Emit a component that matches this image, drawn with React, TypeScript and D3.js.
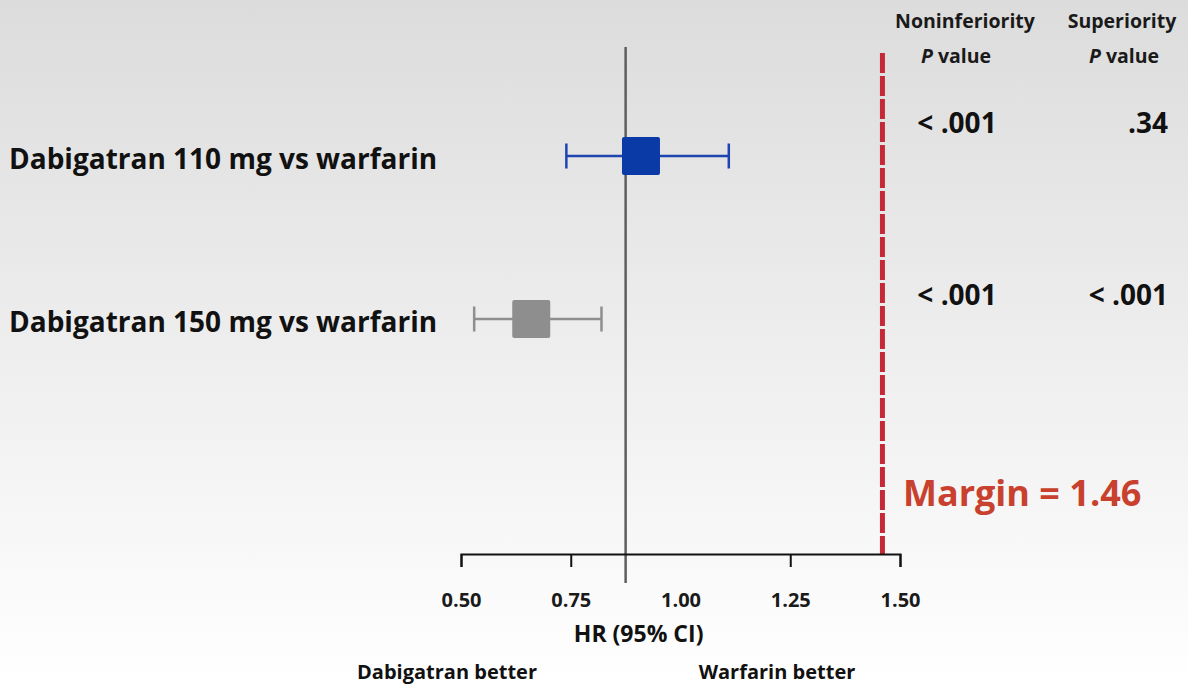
import React, { useRef, useEffect } from 'react'
import * as d3 from 'd3'

// forest plot data
const comparisons = ['Dabigatran 110 mg vs warfarin', 'Dabigatran 150 mg vs warfarin']
const hr = [0.91, 0.66]
const ciLow = [0.74, 0.53]
const ciHigh = [1.11, 0.82]
const nonInfP = ['< .001', '< .001']
const supP = ['.34', '< .001']
const colors = ['#0a3aa6', '#8e8e8e']
const ciColors = ['#1e44b0', '#8e8e8e']
const tickValues = [0.5, 0.75, 1.0, 1.25, 1.5]
const refValue = 0.875
const marginValue = 1.46

const font = '"Open Sans", Lato, sans-serif'

const App = () => {
  const axisRef = useRef<SVGGElement>(null)

  const width = 1188
  const height = 686

  const xScale = d3.scaleLinear().domain([0.5, 1.5]).range([461, 900])
  const yScale = d3.scaleLinear().domain([0, 1]).range([156, 319])
  // p-value rows sit a bit above each estimate
  const pScale = d3.scaleLinear().domain([0, 1]).range([133, 305])
  const axisY = 554

  useEffect(() => {
    const g = d3.select(axisRef.current)
    const xAxis = d3
      .axisBottom(xScale)
      .tickValues(tickValues)
      .tickFormat(d3.format('.2f'))
      .tickSize(13)
      .tickSizeOuter(13)
      .tickPadding(26)

    g.call(xAxis)
    g.select('.domain').attr('stroke', '#111').attr('stroke-width', 2)
    g.selectAll('.tick line')
      .attr('stroke', '#111')
      .attr('stroke-width', 2)
      .attr('opacity', (d: any) => (d === 1 ? 0 : 1))
    g.selectAll('.tick text')
      .attr('fill', '#1a1a1a')
      .style('font-family', font)
      .style('font-weight', 700)
      .style('font-size', '20px')
  }, [])

  const boxSize = 38
  const capH = 25

  return (
    <svg
      width={width}
      height={height}
      style={{ position: 'absolute', left: 0, top: 0, display: 'block' }}
      fontFamily={font}>
      <defs>
        <linearGradient id="bg" x1="0" y1="0" x2="0" y2="1">
          <stop offset="0%" stopColor="#dcdcdc" />
          <stop offset="60%" stopColor="#f1f1f1" />
          <stop offset="100%" stopColor="#ffffff" />
        </linearGradient>
      </defs>
      <rect x={0} y={0} width={width} height={height} fill="url(#bg)" />

      {/* headers */}
      <g fontWeight={700} fontSize={19.5} fill="#1a1a1a" textAnchor="middle">
        <text x={965} y={28}>Noninferiority</text>
        <text x={956} y={63}>
          <tspan fontStyle="italic">P</tspan> value
        </text>
        <text x={1122} y={28}>Superiority</text>
        <text x={1124} y={63}>
          <tspan fontStyle="italic">P</tspan> value
        </text>
      </g>

      {/* reference line */}
      <line
        x1={xScale(refValue)}
        x2={xScale(refValue)}
        y1={47}
        y2={583}
        stroke="#5e5e5e"
        strokeWidth={2.5}
      />

      {/* margin line */}
      <line
        x1={xScale(marginValue)}
        x2={xScale(marginValue)}
        y1={53}
        y2={axisY}
        stroke="#c42a36"
        strokeWidth={5}
        strokeDasharray="20 3"
      />
      <text x={903} y={506} fill="#c8412e" fontWeight={700} fontSize={36}>
        Margin = {marginValue.toFixed(2)}
      </text>

      {/* rows */}
      {comparisons.map((name, i) => {
        const cy = yScale(i)
        return (
          <g key={name}>
            <text x={9} y={cy + 13} fontWeight={700} fontSize={28} fill="#111">
              {name}
            </text>
            <line
              x1={xScale(ciLow[i])}
              x2={xScale(ciHigh[i])}
              y1={cy}
              y2={cy}
              stroke={ciColors[i]}
              strokeWidth={2.5}
            />
            <line
              x1={xScale(ciLow[i])}
              x2={xScale(ciLow[i])}
              y1={cy - capH / 2}
              y2={cy + capH / 2}
              stroke={ciColors[i]}
              strokeWidth={2.5}
            />
            <line
              x1={xScale(ciHigh[i])}
              x2={xScale(ciHigh[i])}
              y1={cy - capH / 2}
              y2={cy + capH / 2}
              stroke={ciColors[i]}
              strokeWidth={2.5}
            />
            <rect
              x={xScale(hr[i]) - boxSize / 2}
              y={cy - boxSize / 2}
              width={boxSize}
              height={boxSize}
              fill={colors[i]}
              rx={2}
            />
            <text x={957} y={pScale(i)} textAnchor="middle" fontWeight={700} fontSize={28} fill="#111">
              {nonInfP[i]}
            </text>
            <text x={1168} y={pScale(i)} textAnchor="end" fontWeight={700} fontSize={28} fill="#111">
              {supP[i]}
            </text>
          </g>
        )
      })}

      {/* axis */}
      <g ref={axisRef} transform={`translate(0,${axisY})`} />

      <text x={xScale(0.875) + 13} y={642} textAnchor="middle" fontWeight={700} fontSize={23} fill="#111">
        HR (95% CI)
      </text>
      <text x={447} y={679} textAnchor="middle" fontWeight={700} fontSize={20} fill="#111">
        Dabigatran better
      </text>
      <text x={777} y={679} textAnchor="middle" fontWeight={700} fontSize={20} fill="#111">
        Warfarin better
      </text>
    </svg>
  )
}

export default App
